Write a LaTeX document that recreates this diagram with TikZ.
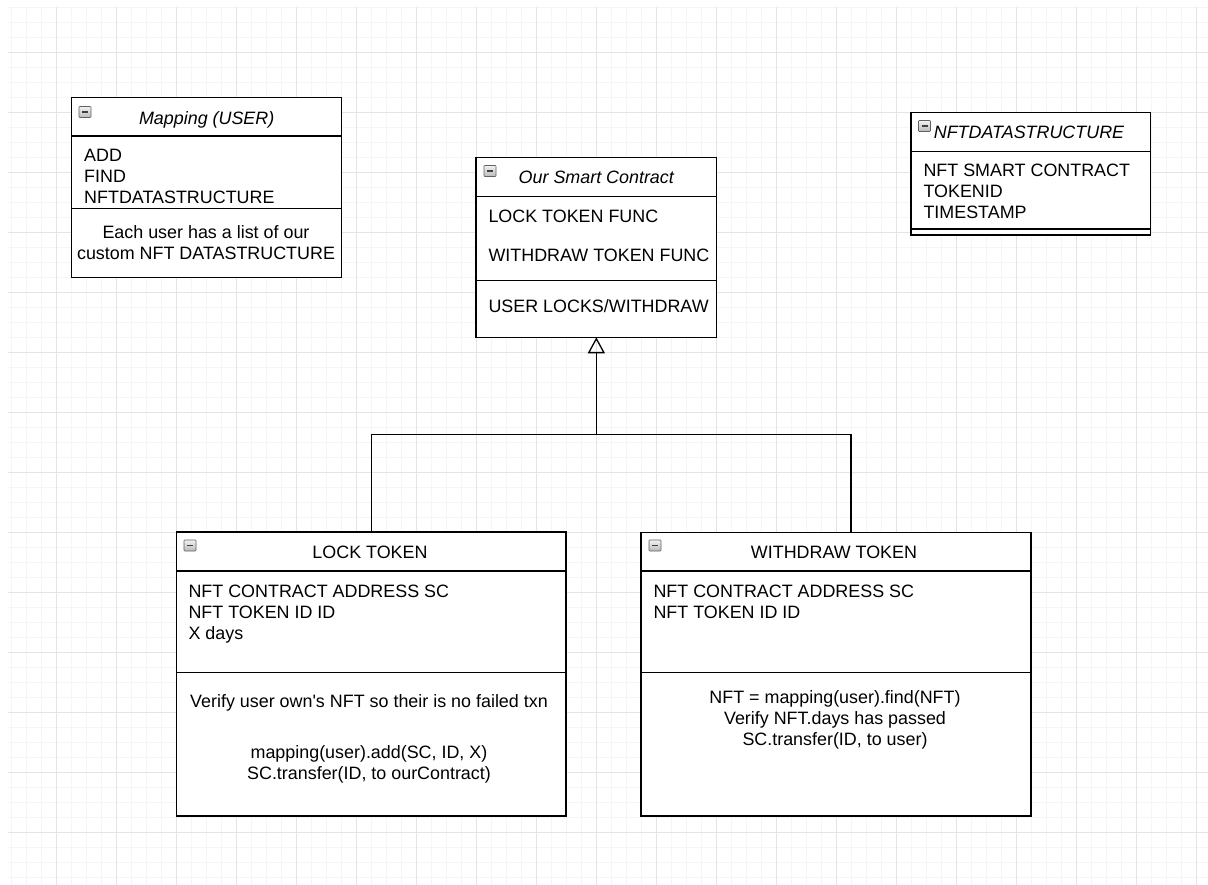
\documentclass[tikz,border=0pt]{standalone}
\usepackage{fontspec}
\setmainfont{Liberation Sans}
\usetikzlibrary{positioning,
	calc,
	arrows.meta}

\definecolor{gridminor}{HTML}{F5F5F5}
\definecolor{gridmajor}{HTML}{E4E4E4}

\tikzset{
	compartment/.style={draw, line width=1.3pt, fill=white, anchor=north west, inner sep=0pt, outer sep=0pt},
	collapse/.style={draw=gray!75!black, line width=0.6pt, top color=gray!10, bottom color=gray!55, minimum width=12pt, minimum height=11pt, inner sep=0pt, rounded corners=0.8pt,
		path picture={\draw[line width=1.3pt, black!75] ([xshift=3pt]path picture bounding box.west) -- ([xshift=-3pt]path picture bounding box.east);}},
	classtitle/.style={anchor=base, font=\fontsize{17.9pt}{21pt}\selectfont\itshape},
	plaintitle/.style={anchor=base},
	fields/.style={anchor=base west, align=left},
	notes/.style={anchor=base, align=center},
	link/.style={draw, line width=1.3pt}
}

\begin{document}
\begin{tikzpicture}[x=1pt, y=-1pt, font=\fontsize{17.9pt}{21pt}\selectfont]
                            \useasboundingbox [fill=white] (0,0) rectangle (1208,885);
                            \foreach \gx in {11.7,26.7,...,1208} \draw[gridminor, line width=1pt] (\gx,7) -- (\gx,885);
                            \foreach \gy in {7.3,22.3,...,885} \draw[gridminor, line width=1pt] (8,\gy) -- (1208,\gy);
                            \foreach \gx in {56.7,116.7,...,1208} \draw[gridmajor, line width=1.3pt] (\gx,7) -- (\gx,885);
                            \foreach \gy in {52.3,112.3,...,885} \draw[gridmajor, line width=1.3pt] (8,\gy) -- (1208,\gy);

                            \node (maphead) [compartment, minimum width=270pt, minimum height=38.7pt] at (71.7,97.3) {};
                            \node (mapfields) [compartment, minimum width=270pt, minimum height=72.3pt] at (maphead.south west) {};
                            \node (mapnotes) [compartment, minimum width=270pt, minimum height=69pt] at (mapfields.south west) {};
                            \node (mapicon) [collapse] at (85,112) {};
                            \node (maptitle) [classtitle] at (206.7,124.3) {Mapping (USER)};
                            \node (mapops) [fields] at (80.7,204) {ADD\\FIND\\NFTDATASTRUCTURE};
                            \node (mapnote) [notes] at (206,260) {Each user has a list of our\\custom NFT DATASTRUCTURE};

                            \node (nfthead) [compartment, minimum width=239.7pt, minimum height=39pt] at (911,112.7) {};
                            \node (nftfields) [compartment, minimum width=239.7pt, minimum height=77.3pt] at (nfthead.south west) {};
                            \node (nftfoot) [compartment, minimum width=239.7pt, minimum height=6pt] at (nftfields.south west) {};
                            \node (nfticon) [collapse] at (924.5,126) {};
                            \node (nfttitle) [classtitle] at (1029,138.3) {NFTDATASTRUCTURE};
                            \node (nftattrs) [fields] at (920,218.3) {NFT SMART CONTRACT\\TOKENID\\TIMESTAMP};

                            \node (schead) [compartment, minimum width=240.7pt, minimum height=39.4pt] at (476,157.3) {};
                            \node (scfields) [compartment, minimum width=240.7pt, minimum height=84pt] at (schead.south west) {};
                            \node (scnotes) [compartment, minimum width=240.7pt, minimum height=56.6pt] at (scfields.south west) {};
                            \node (scicon) [collapse] at (490,171) {};
                            \node (sctitle) [classtitle] at (596.3,183.3) {Our Smart Contract};
                            \node (scfuncs) [fields] at (485,261.7) {LOCK TOKEN FUNC\\[18pt]WITHDRAW TOKEN FUNC};
                            \node (scnote) [fields] at (485,312.7) {USER LOCKS/WITHDRAW};

                            \node (lockhead) [compartment, minimum width=389.3pt, minimum height=39pt] at (176.7,532) {};
                            \node (lockfields) [compartment, minimum width=389.3pt, minimum height=101.7pt] at (lockhead.south west) {};
                            \node (locknotes) [compartment, minimum width=389.3pt, minimum height=143.3pt] at (lockfields.south west) {};
                            \node (lockicon) [collapse] at (190,545.5) {};
                            \node (locktitle) [plaintitle] at (370,558.3) {LOCK TOKEN};
                            \node (lockattrs) [fields] at (185,639.3) {NFT CONTRACT ADDRESS SC\\NFT TOKEN ID ID\\X days};
                            \node (locknote) [notes] at (369,779) {Verify user own\textquotesingle s NFT so their is no failed txn\\[30pt]mapping(user).add(SC, ID, X)\\SC.transfer(ID, to ourContract)};

                            \node (wdhead) [compartment, minimum width=390pt, minimum height=38.7pt] at (641,532.3) {};
                            \node (wdfields) [compartment, minimum width=390pt, minimum height=101.7pt] at (wdhead.south west) {};
                            \node (wdnotes) [compartment, minimum width=390pt, minimum height=143.3pt] at (wdfields.south west) {};
                            \node (wdicon) [collapse] at (655,545.5) {};
                            \node (wdtitle) [plaintitle] at (834,558.3) {WITHDRAW TOKEN};
                            \node (wdattrs) [fields] at (650,618.3) {NFT CONTRACT ADDRESS SC\\NFT TOKEN ID ID};
                            \node (wdnote) [notes] at (835,745) {NFT = mapping(user).find(NFT)\\Verify NFT.days has passed\\SC.transfer(ID, to user)};

                            \coordinate (joint) at ($(scnotes.south)+(0,97)$);
                            \coordinate (wdjoin) at ($(wdhead.north)+(15,0)$);
                            \draw[link] (lockhead.north) |- (joint) -| (wdjoin);
                            \draw[link, -{Triangle[open, width=17pt, length=16pt, line width=1.3pt]}] (joint) -- (scnotes.south);
                        \end{tikzpicture}
\end{document}
